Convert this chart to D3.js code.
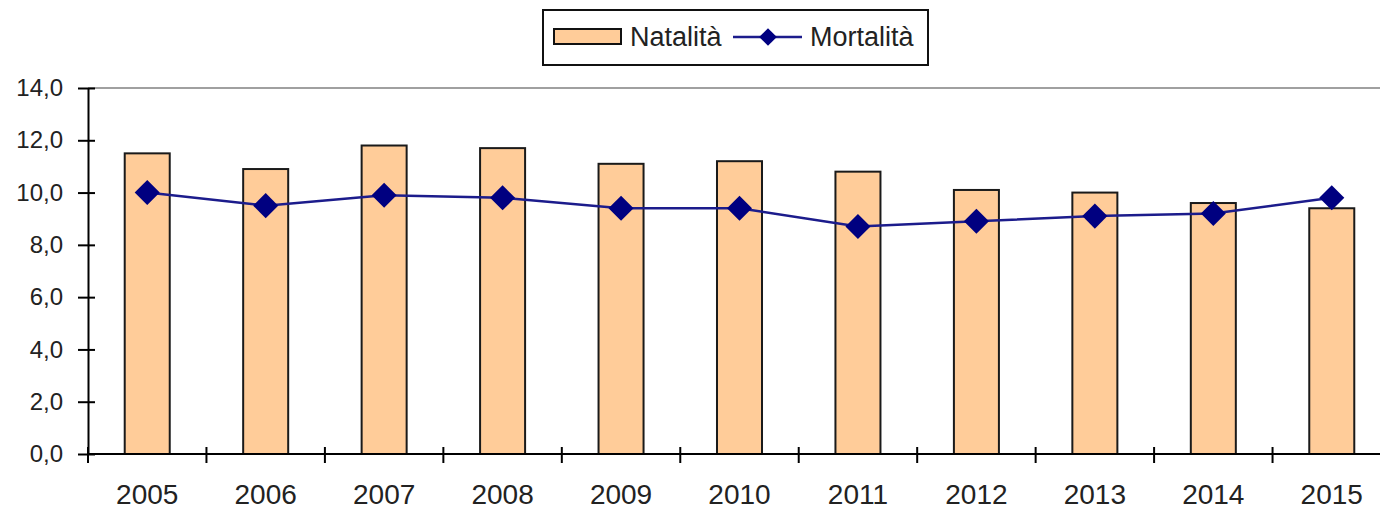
<!DOCTYPE html>
<html>
<head>
<meta charset="utf-8">
<script src="https://cdn.jsdelivr.net/npm/d3@7.9.0/dist/d3.min.js"></script>
<style>
  body { margin: 0; background: #fff; }
  svg { display: block; font-family: "Liberation Sans", Arial, sans-serif; }
</style>
</head>
<body>
<svg width="1380" height="509"></svg>
<script>
// data
const years = ['2005', '2006', '2007', '2008', '2009', '2010', '2011', '2012', '2013', '2014', '2015'];
const natalita = [11.5, 10.9, 11.8, 11.7, 11.1, 11.2, 10.8, 10.1, 10.0, 9.6, 9.4];
const mortalita = [10.0, 9.5, 9.9, 9.8, 9.4, 9.4, 8.7, 8.9, 9.1, 9.2, 9.8];
const yTicks = [0, 2, 4, 6, 8, 10, 12, 14];

const svg = d3.select('svg');

// plot area (right side runs past the window, like the reference)
const x = d3.scaleBand().domain(years).range([88, 1391]).paddingInner(0).paddingOuter(0);
const y = d3.scaleLinear().domain([0, 14]).range([454, 88]);
const fmt = (d) => d.toFixed(1).replace('.', ',');

// top border line
svg.append('line')
    .attr('x1', x.range()[0]).attr('x2', x.range()[1])
    .attr('y1', y(14)).attr('y2', y(14))
    .attr('stroke', '#a0a0a0').attr('stroke-width', 2);

// bars
const barW = x.bandwidth() * 0.38;
svg.append('g').selectAll('rect')
    .data(natalita)
    .join('rect')
    .attr('x', (d, i) => x(years[i]) + (x.bandwidth() - barW) / 2)
    .attr('y', (d) => y(d))
    .attr('width', barW)
    .attr('height', (d) => y(0) - y(d))
    .attr('fill', '#ffcc99')
    .attr('stroke', '#1a1a1a')
    .attr('stroke-width', 2);

// y axis
const yAxis = svg.append('g').attr('transform', `translate(${x.range()[0]},0)`)
    .call(d3.axisLeft(y).tickValues(yTicks).tickFormat(fmt).tickSizeInner(10).tickSizeOuter(0).tickPadding(15));
yAxis.select('.domain').attr('stroke', '#000').attr('stroke-width', 2);
yAxis.selectAll('.tick line').attr('stroke', '#000').attr('stroke-width', 2).attr('x2', 7).attr('x1', -10);
yAxis.selectAll('text').attr('font-size', 24).attr('fill', '#222').attr('font-family', '"Liberation Sans", Arial, sans-serif');

// x axis with ticks at category edges
const xAxis = svg.append('g').attr('transform', `translate(0,${y(0)})`);
xAxis.append('line')
    .attr('x1', x.range()[0]).attr('x2', x.range()[1])
    .attr('stroke', '#000').attr('stroke-width', 2);
xAxis.selectAll('.edge')
    .data(years)
    .join('line')
    .attr('class', 'edge')
    .attr('x1', (d) => x(d)).attr('x2', (d) => x(d))
    .attr('y1', -7).attr('y2', 9)
    .attr('stroke', '#000').attr('stroke-width', 2);
xAxis.selectAll('text')
    .data(years)
    .join('text')
    .attr('x', (d) => x(d) + x.bandwidth() / 2)
    .attr('y', 50)
    .attr('text-anchor', 'middle')
    .attr('font-size', 28)
    .attr('fill', '#222')
    .text((d) => d);

// mortality line
const line = d3.line()
    .x((d, i) => x(years[i]) + x.bandwidth() / 2)
    .y((d) => y(d));
svg.append('path')
    .datum(mortalita)
    .attr('d', line)
    .attr('fill', 'none')
    .attr('stroke', '#1c1c8c')
    .attr('stroke-width', 2.5);

const diamond = d3.symbol().type(d3.symbolDiamond2).size(400);
svg.append('g').selectAll('path')
    .data(mortalita)
    .join('path')
    .attr('d', diamond)
    .attr('transform', (d, i) => `translate(${x(years[i]) + x.bandwidth() / 2},${y(d)})`)
    .attr('fill', '#000080');

// legend
const legend = svg.append('g');
legend.append('rect')
    .attr('x', 543).attr('y', 10).attr('width', 385).attr('height', 55)
    .attr('fill', '#fff').attr('stroke', '#111').attr('stroke-width', 2);
legend.append('rect')
    .attr('x', 554).attr('y', 29).attr('width', 67).attr('height', 15)
    .attr('fill', '#ffcc99').attr('stroke', '#111').attr('stroke-width', 2);
legend.append('text')
    .attr('x', 630).attr('y', 46)
    .attr('font-size', 27).attr('fill', '#222')
    .text('Natalità');
legend.append('line')
    .attr('x1', 733).attr('x2', 802).attr('y1', 37).attr('y2', 37)
    .attr('stroke', '#1c1c8c').attr('stroke-width', 2.5);
legend.append('path')
    .attr('d', d3.symbol().type(d3.symbolDiamond2).size(200))
    .attr('transform', 'translate(768,37)')
    .attr('fill', '#000080');
legend.append('text')
    .attr('x', 810).attr('y', 46)
    .attr('font-size', 27).attr('fill', '#222')
    .text('Mortalità');
</script>
</body>
</html>
